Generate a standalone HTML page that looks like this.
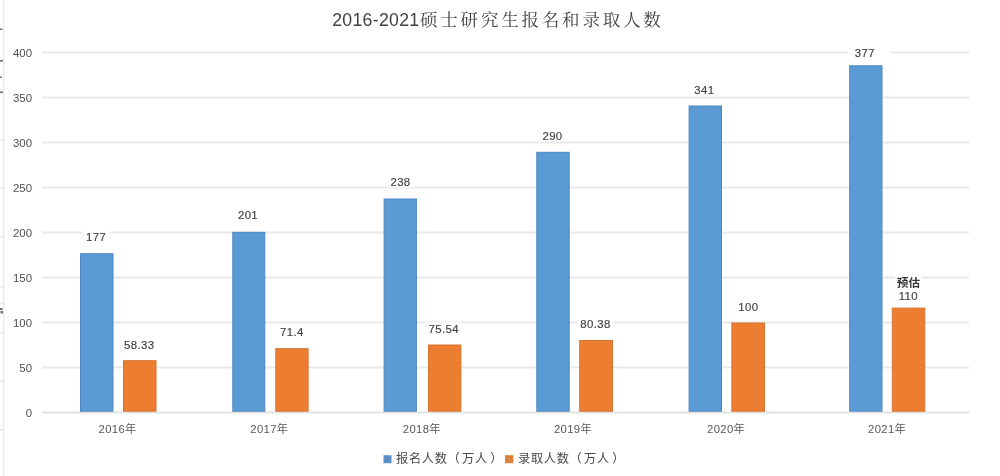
<!DOCTYPE html>
<html lang="zh">
<head>
<meta charset="utf-8">
<title>2016-2021硕士研究生报名和录取人数</title>
<style>
html,body{margin:0;padding:0;background:#fff;}
body{width:1000px;height:476px;overflow:hidden;}
svg{display:block;filter:blur(0.45px);}
.ax{font-family:"Liberation Sans","Noto Sans CJK SC",sans-serif;font-size:11.4px;fill:#505050;}
.xl{font-family:"Liberation Sans","Noto Sans CJK SC",sans-serif;font-size:11.3px;fill:#585858;letter-spacing:0.35px;}
.dl{font-family:"Liberation Sans","Noto Sans CJK SC",sans-serif;font-size:11.4px;fill:#414141;letter-spacing:0.4px;stroke:#414141;stroke-width:0.15px;}
.ttl{font-family:"Liberation Sans","Noto Serif CJK SC",serif;fill:#414141;}
.lg{font-family:"Liberation Sans","Noto Sans CJK SC",sans-serif;font-size:12.2px;fill:#484848;letter-spacing:0.7px;}
</style>
</head>
<body>
<svg width="1000" height="476" viewBox="0 0 1000 476">
<rect width="1000" height="476" fill="#ffffff"/>
<!-- left edge artifact -->
<rect x="3" y="0" width="1.4" height="476" fill="#eaeaea"/>
<g fill="#6e6e6e">
<rect x="0" y="28.5" width="2.5" height="1.5"/>
<rect x="0" y="60" width="3" height="1.6"/>
<rect x="0" y="76.5" width="2" height="1.4"/>
<rect x="0" y="91.5" width="3" height="1.6"/>
<rect x="0" y="308" width="2.5" height="2"/>
<rect x="0.5" y="311" width="2.5" height="2.5"/>
</g>
<g fill="#e4e4e4">
<rect x="0" y="139.5" width="4" height="1.2"/>
<rect x="0" y="187.7" width="4" height="1.2"/>
<rect x="0" y="236" width="4" height="1.2"/>
<rect x="0" y="286.5" width="4" height="1.2"/>
<rect x="0" y="302.5" width="5" height="1.2"/>
<rect x="0" y="332" width="4" height="1.2"/>
<rect x="0" y="380.5" width="4" height="1.2"/>
<rect x="0" y="429" width="4" height="1.2"/>
</g>
<!-- gridlines -->
<g stroke="#e9e9e9" stroke-width="2">
<line x1="42" x2="969" y1="52.5" y2="52.5"/>
<line x1="42" x2="969" y1="97.5" y2="97.5"/>
<line x1="42" x2="969" y1="142.5" y2="142.5"/>
<line x1="42" x2="969" y1="187.5" y2="187.5"/>
<line x1="42" x2="969" y1="232.5" y2="232.5"/>
<line x1="42" x2="969" y1="277.5" y2="277.5"/>
<line x1="42" x2="969" y1="322.5" y2="322.5"/>
<line x1="42" x2="969" y1="367.5" y2="367.5"/>
</g>
<line x1="42" x2="969" y1="412.5" y2="412.5" stroke="#e3e3e3" stroke-width="2"/>
<!-- y axis labels -->
<g class="ax" text-anchor="end">
<text x="32" y="56.9">400</text>
<text x="32" y="101.9">350</text>
<text x="32" y="146.9">300</text>
<text x="32" y="191.9">250</text>
<text x="32" y="236.9">200</text>
<text x="32" y="281.9">150</text>
<text x="32" y="326.9">100</text>
<text x="32" y="371.9">50</text>
<text x="32" y="416.9">0</text>
</g>
<g fill="#fff">
<rect x="83.0" y="230.6" width="26.2" height="11.6"/>
<rect x="387.4" y="175.7" width="26.2" height="11.6"/>
<rect x="425.5" y="322.3" width="36.6" height="11.6"/>
<rect x="577.2" y="317.3" width="36.6" height="11.6"/>
<rect x="848" y="45" width="43" height="14"/>
<rect x="895" y="274" width="26.5" height="6"/>
</g>
<!-- bars: 报名人数 -->
<g fill="#5b9bd5" stroke="#4f88c0" stroke-width="1">
<rect x="80.5" y="253.7" width="32.5" height="157.5"/>
<rect x="232.8" y="232.3" width="32.0" height="178.9"/>
<rect x="384.1" y="199.0" width="32.3" height="212.2"/>
<rect x="536.8" y="152.3" width="32.4" height="258.9"/>
<rect x="689.1" y="106.0" width="32.4" height="305.2"/>
<rect x="849.7" y="65.8" width="32.3" height="345.4"/>
</g>
<!-- bars: 录取人数 -->
<g fill="#ed7d31" stroke="#d5722f" stroke-width="1">
<rect x="123.5" y="360.7" width="32.5" height="50.5"/>
<rect x="275.8" y="348.7" width="32.3" height="62.5"/>
<rect x="428.6" y="345.0" width="32.3" height="66.2"/>
<rect x="579.7" y="340.5" width="32.8" height="70.7"/>
<rect x="731.9" y="323.0" width="32.6" height="88.2"/>
<rect x="892.3" y="308.1" width="32.5" height="103.1"/>
</g>
<!-- data labels -->
<g class="dl" text-anchor="middle">
<text x="96.1" y="241.0">177</text>
<text x="248.0" y="219.3">201</text>
<text x="400.5" y="186.1">238</text>
<text x="552.5" y="139.6">290</text>
<text x="704.4" y="94.1">341</text>
<text x="864.8" y="56.6">377</text>
<text x="139.3" y="348.5">58.33</text>
<text x="291.9" y="335.5">71.4</text>
<text x="443.8" y="332.7">75.54</text>
<text x="595.5" y="327.7">80.38</text>
<text x="748.4" y="310.6">100</text>
<text x="908.4" y="300.2">110</text>
<text x="908.4" y="287.0" style="font-weight:bold;font-size:11.6px;letter-spacing:0;stroke:none;fill:#363636">预估</text>
</g>
<!-- x labels -->
<g class="xl" text-anchor="middle">
<text x="117.6" y="432.6">2016年</text>
<text x="269.4" y="432.6">2017年</text>
<text x="421.9" y="432.6">2018年</text>
<text x="573.0" y="432.6">2019年</text>
<text x="726.2" y="432.6">2020年</text>
<text x="887.2" y="432.6">2021年</text>
</g>
<!-- title -->
<text class="ttl" x="419.5" y="26" text-anchor="end" style="font-size:17.7px;letter-spacing:0.3px">2016-2021</text>
<text class="ttl" x="420" y="26" style="font-size:17.5px;font-weight:400;letter-spacing:2.8px">硕士研究生报名和录取人数</text>
<!-- legend -->
<rect x="383.5" y="455.2" width="8" height="8" fill="#5c8ec6"/>
<text class="lg" x="396" y="463.2">报名人数（<tspan dx="1.6">万人</tspan><tspan dx="2.5">）</tspan></text>
<rect x="505" y="455.2" width="8.4" height="8" fill="#df7f38"/>
<text class="lg" x="518" y="463.2">录取人数（<tspan dx="1.6">万人</tspan><tspan dx="2.5">）</tspan></text>
</svg>
</body>
</html>
